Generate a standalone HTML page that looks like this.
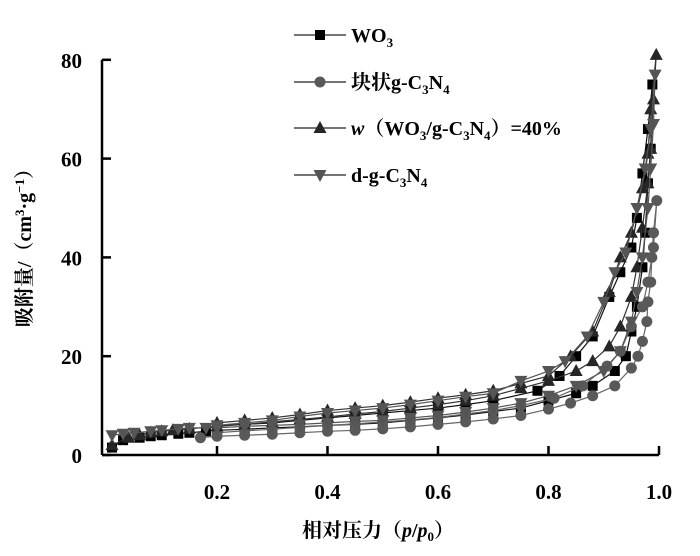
<!DOCTYPE html>
<html><head><meta charset="utf-8">
<style>
body{margin:0;background:#fff;width:700px;height:556px;overflow:hidden}
svg{display:block;font-family:"Liberation Serif","Noto Serif CJK SC",serif}
</style></head>
<body>
<svg id="chart" width="700" height="556" viewBox="0 0 700 556">
<g id="axes"></g>
<g id="series"></g>
<g id="legend"></g>
<text x="378" y="537" text-anchor="middle" font-size="20" font-weight="bold">相对压力（<tspan font-style="italic">p</tspan>/<tspan font-style="italic">p</tspan><tspan font-size="13" dy="4">0</tspan><tspan dy="-4">）</tspan></text>
<text transform="translate(31,243) rotate(-90)" text-anchor="middle" font-size="20" font-weight="bold">吸附量/（cm<tspan font-size="13" dy="-7">3</tspan><tspan dy="7">·g</tspan><tspan font-size="13" dy="-7">−1</tspan><tspan dy="7">）</tspan></text>
</svg>
<script>
const xTicks=[0.2,0.4,0.6,0.8,1.0];
const xTickLabels=["0.2","0.4","0.6","0.8","1.0"];
const yTicks=[0,20,40,60,80];
const yTickLabels=["0","20","40","60","80"];
const seriesNames=["WO3","bulk-g-C3N4","WO3-g-C3N4-40","d-g-C3N4"];
const wo3P=[0.01,0.03,0.06,0.08,0.1,0.13,0.15,0.18,0.2,0.25,0.3,0.35,0.4,0.45,0.5,0.55,0.6,0.65,0.7,0.75,0.8,0.85,0.88,0.92,0.94,0.95,0.96,0.97,0.975,0.98,0.985,0.988,0.98,0.97,0.96,0.95,0.93,0.91,0.88,0.85,0.82,0.78,0.7,0.65,0.6,0.55,0.5,0.45,0.4,0.35,0.3,0.25,0.2];
const wo3V=[1.5,3,3.5,3.8,4,4.3,4.5,4.8,5,5.2,5.5,5.7,6,6.2,6.5,7,7.5,8.1,8.8,9.5,11,12.5,14,17,20,25,30,38,45,55,62,75,66,57,48,42,37,32,24,20,16,13,11,10.2,9.5,9,8.5,8,7.5,7,6.5,6.2,6];
const bulkP=[0.17,0.2,0.25,0.3,0.35,0.4,0.45,0.5,0.55,0.6,0.65,0.7,0.75,0.8,0.84,0.88,0.92,0.95,0.962,0.97,0.978,0.98,0.985,0.987,0.99,0.996,0.99,0.98,0.97,0.95,0.93,0.906,0.862,0.81,0.75,0.7,0.65,0.6,0.55,0.5,0.45,0.4,0.35,0.3,0.25,0.2];
const bulkV=[3.5,3.8,4,4.2,4.5,4.8,5,5.3,5.7,6.2,6.7,7.3,8,9.3,10.5,12,14,17.6,20,23,27,31,35,40,45,51.5,42,35,30,26,21,18,14,11.5,10,9,8.3,7.6,7.1,6.7,6.3,6,5.6,5.2,4.9,4.5];
const compP=[0.01,0.04,0.06,0.08,0.1,0.12,0.15,0.2,0.25,0.3,0.35,0.4,0.45,0.5,0.55,0.6,0.65,0.7,0.75,0.8,0.85,0.88,0.91,0.93,0.95,0.96,0.97,0.98,0.985,0.99,0.995,0.985,0.98,0.97,0.95,0.93,0.91,0.88,0.84,0.8,0.75,0.7,0.65,0.6,0.55,0.5,0.45,0.4,0.35,0.3,0.25,0.2];
const compV=[2,3.5,4,4.5,4.8,5,5.3,5.8,6.2,6.7,7.2,7.7,8.3,8.8,9.5,10.2,11,12,13.5,15,17,19,22,26,32,38,46,55,62,72,81,70,61,54,45,40,33,25,20,16,14.5,13,12.2,11.5,10.7,10,9.5,9,8.2,7.5,7,6.5];
const dP=[0.01,0.03,0.05,0.08,0.1,0.13,0.15,0.18,0.2,0.25,0.3,0.35,0.4,0.45,0.5,0.55,0.6,0.65,0.7,0.75,0.8,0.85,0.9,0.93,0.95,0.96,0.97,0.98,0.985,0.99,0.993,0.985,0.975,0.96,0.94,0.92,0.9,0.87,0.83,0.8,0.75,0.7,0.65,0.6,0.55,0.5,0.45,0.4,0.35,0.3,0.25,0.2];
const dV=[4,4.3,4.5,4.8,5,5.3,5.5,5.5,5.5,5.8,6,6.2,6.5,6.8,7,7.5,8,8.7,9.5,10.5,12,14,17,21,27,33,40,50,58,67,77,66,58,50,41,37,31,24,19,17,15,12.5,11.8,11,10.2,9.5,9,8.5,7.8,7,6.5,6];

const NS="http://www.w3.org/2000/svg";
const X0=106.5,XS=552.5,Y0=455,YS=4.94;
function xs(p){return X0+XS*p;}
function ys(v){return Y0-YS*v;}
function mk(tag,attrs,parent){const e=document.createElementNS(NS,tag);for(const k in attrs)e.setAttribute(k,attrs[k]);parent.appendChild(e);return e;}
const axes=document.getElementById('axes');
const xAxis=mk('path',{d:`M102,${Y0}H659`,stroke:'#000','stroke-width':2.5,fill:'none'},axes);


const yAxis=mk('path',{d:`M102,${Y0}V${ys(80)}`,stroke:'#000','stroke-width':2.5,fill:'none'},axes);


xTicks.forEach((t,i)=>{
 const tk=mk('line',{x1:xs(t),x2:xs(t),y1:Y0,y2:Y0-9,stroke:'#000','stroke-width':2.5},axes);
 
 
 const lb=mk('text',{x:xs(t),y:Y0+44,'text-anchor':'middle','font-size':21,'font-weight':'bold'},axes);
 lb.textContent=xTickLabels[i];
 
 
});
yTicks.forEach((t,i)=>{
 const tk=mk('line',{x1:102,x2:111,y1:ys(t),y2:ys(t),stroke:'#000','stroke-width':2.5},axes);
 
 
 const lb=mk('text',{x:82,y:ys(t)+8,'text-anchor':'end','font-size':21,'font-weight':'bold'},axes);
 lb.textContent=yTickLabels[i];
 
 
});
function marker(type,cx,cy,col,parent){
 let e;
 if(type==='sq')e=mk('rect',{x:cx-5,y:cy-5,width:10,height:10,fill:col},parent);
 else if(type==='ci')e=mk('circle',{cx:cx,cy:cy,r:5.5,fill:col},parent);
 else if(type==='up')e=mk('polygon',{points:`${cx},${cy-7} ${cx-6.5},${cy+5} ${cx+6.5},${cy+5}`,fill:col},parent);
 else e=mk('polygon',{points:`${cx},${cy+7} ${cx-6.5},${cy-5} ${cx+6.5},${cy-5}`,fill:col},parent);
 return e;
}
const defs=[[wo3P,wo3V,'sq','#000','#111'],[bulkP,bulkV,'ci','#595959','#666'],[compP,compV,'up','#262626','#333'],[dP,dV,'dn','#555','#555']];
const sl=document.getElementById('series');
defs.forEach((d,si)=>{
 const g=mk('g',{},sl);
 
 
 const pts=d[0].map((p,i)=>xs(p)+','+ys(d[1][i])).join(' ');
 const pl=mk('polyline',{points:pts,fill:'none',stroke:d[4],'stroke-width':1.2},g);
 
 
 d[0].forEach((p,i)=>{
  const m=marker(d[2],xs(p),ys(d[1][i]),d[3],g);
  
  
 });
});
const lg=document.getElementById('legend');
const legItems=[['sq','#000',35,'WO<tspan font-size="13" dy="5">3</tspan>'],['ci','#595959',82,'块状g-C<tspan font-size="13" dy="5">3</tspan><tspan dy="-5">N</tspan><tspan font-size="13" dy="5">4</tspan>'],['up','#262626',128,'<tspan font-style="italic">w</tspan>（WO<tspan font-size="13" dy="5">3</tspan><tspan dy="-5">/g-C</tspan><tspan font-size="13" dy="5">3</tspan><tspan dy="-5">N</tspan><tspan font-size="13" dy="5">4</tspan><tspan dy="-5">）=40%</tspan>'],['dn','#555',175,'d-g-C<tspan font-size="13" dy="5">3</tspan><tspan dy="-5">N</tspan><tspan font-size="13" dy="5">4</tspan>']];
legItems.forEach(it=>{
 const g=mk('g',{},lg);
 
 
 mk('line',{x1:294,x2:346,y1:it[2],y2:it[2],stroke:'#222','stroke-width':1.3},g);
 marker(it[0],320,it[2],it[1],g);
 const t=mk('text',{x:351,y:it[2]+7,'font-size':20,'font-weight':'bold'},g);
 t.innerHTML=it[3];
});
</script>
</body></html>
